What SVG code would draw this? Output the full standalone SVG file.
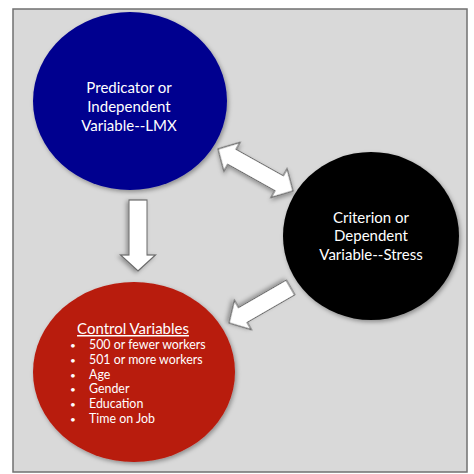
<svg xmlns="http://www.w3.org/2000/svg" width="474" height="474" viewBox="0 0 474 474">
<defs>
<filter id="sh" x="-20%" y="-20%" width="140%" height="140%">
<feDropShadow dx="1.5" dy="2" stdDeviation="2" flood-color="#000" flood-opacity="0.35"/>
</filter>
<style>
.t{font-family:Lato,"Open Sans",sans-serif;fill:#fff;text-anchor:middle}
.big{font-size:15px}
.it{font-family:Lato,"Open Sans",sans-serif;fill:#fff;font-size:12.4px}
.b{font-size:10px}
.arr{fill:#fff;stroke:#6b6b6b;stroke-width:1.2;stroke-linejoin:miter;filter:url(#sh)}
</style>
</defs>
<rect x="13" y="9" width="454" height="463" fill="#d9d9d9" stroke="#707070" stroke-width="1.5"/>
<g id="connectors">
<path class="arr" transform="translate(138,200) rotate(90)" d="M0,-9 H55 V-17.5 L71,0 L55,17.5 V9 H0 Z"/>
<path class="arr" transform="translate(290.5,287.5) rotate(150)" d="M0,-8.5 H55 V-17 L71,0 L55,17 V8.5 H0 Z"/>
<path class="arr" transform="translate(255.5,170) rotate(29.2)" d="M-43,0 L-27,-16.5 V-8.5 H27 V-16.5 L43,0 L27,16.5 V8.5 H-27 V16.5 Z"/>
</g>
<g id="predictor">
<ellipse cx="130" cy="101" rx="97" ry="89" fill="#03038f" filter="url(#sh)"/>
<text class="t big" x="129" y="93">Predicator or</text>
<text class="t big" x="129" y="112">Independent</text>
<text class="t big" x="129" y="131">Variable--LMX</text>
</g>
<g id="criterion">
<ellipse cx="371" cy="236" rx="88" ry="84" fill="#000" filter="url(#sh)"/>
<text class="t big" x="371" y="223">Criterion or</text>
<text class="t big" x="371" y="241">Dependent</text>
<text class="t big" x="371" y="260">Variable--Stress</text>
</g>
<g id="control">
<ellipse cx="134" cy="372" rx="101" ry="90" fill="#b81a0c" filter="url(#sh)"/>
<text class="t big" x="133" y="334" text-decoration="underline">Control Variables</text>
<g class="it">
<text class="b" x="70" y="349">•</text><text x="89" y="349">500 or fewer workers</text>
<text class="b" x="70" y="364">•</text><text x="89" y="364">501 or more workers</text>
<text class="b" x="70" y="379">•</text><text x="89" y="379">Age</text>
<text class="b" x="70" y="393">•</text><text x="89" y="393">Gender</text>
<text class="b" x="70" y="408">•</text><text x="89" y="408">Education</text>
<text class="b" x="70" y="423">•</text><text x="89" y="423">Time on Job</text>
</g>
</g>
</svg>
